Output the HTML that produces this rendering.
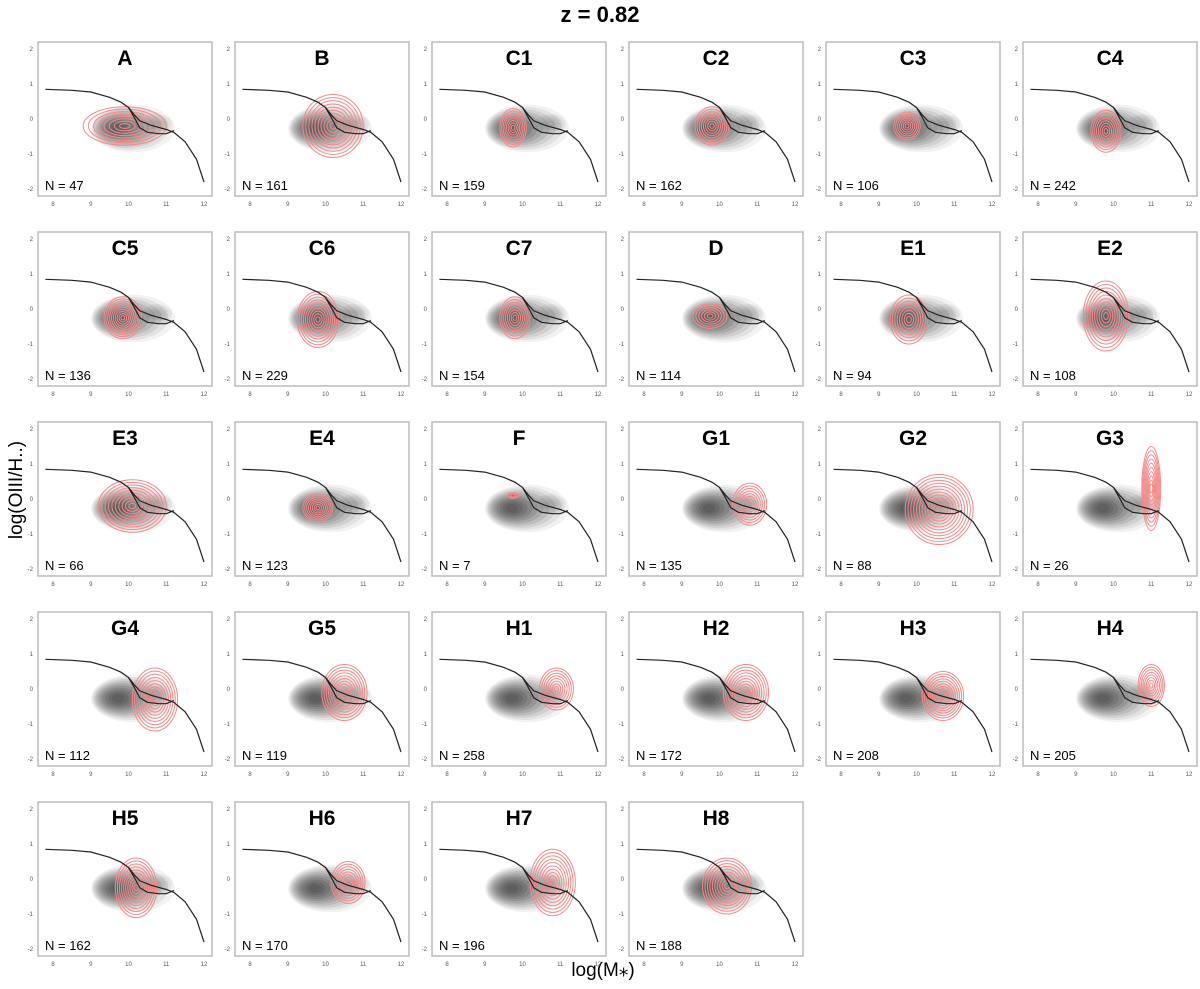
<!DOCTYPE html>
<html><head><meta charset="utf-8"><style>
body{margin:0;background:#fff;}
svg{display:block;font-family:"Liberation Sans",sans-serif;}
</style></head><body>
<svg id="fig" width="1200" height="989" xmlns="http://www.w3.org/2000/svg">
<text x="600" y="22" text-anchor="middle" font-size="22" font-weight="bold">z = 0.82</text>
<text x="0" y="0" transform="translate(22,490) rotate(-90)" text-anchor="middle" font-size="19">log(OIII/H..)</text>
<text x="603" y="976" text-anchor="middle" font-size="19">log(M⁎)</text>
<g id="panels"></g>
</svg>
<script>
const labels=["A","B","C1","C2","C3","C4","C5","C6","C7","D","E1","E2","E3","E4","F","G1","G2","G3","G4","G5","H1","H2","H3","H4","H5","H6","H7","H8"];
const counts=[47,161,159,162,106,242,136,229,154,114,94,108,66,123,7,135,88,26,112,119,258,172,208,205,162,170,196,188];
const redCx=[9.9,10.2,9.75,9.8,9.75,9.8,9.85,9.8,9.8,9.75,9.8,9.8,10.1,9.8,9.75,10.8,10.6,11.0,10.7,10.5,10.9,10.7,10.7,11.0,10.2,10.6,10.8,10.2];
const redCy=[-0.2,-0.2,-0.25,-0.2,-0.2,-0.35,-0.25,-0.3,-0.25,-0.2,-0.3,-0.2,-0.2,-0.25,0.1,-0.15,-0.3,0.3,-0.3,-0.1,0.0,-0.1,-0.2,0.1,-0.25,-0.1,-0.1,-0.2];
const redSx=[1.1,0.8,0.35,0.45,0.35,0.4,0.5,0.55,0.4,0.45,0.5,0.6,0.9,0.4,0.15,0.45,0.9,0.25,0.6,0.6,0.45,0.6,0.55,0.35,0.55,0.45,0.6,0.65];
const redSy=[0.55,0.9,0.55,0.55,0.4,0.6,0.6,0.8,0.6,0.35,0.7,1.0,0.75,0.4,0.08,0.6,1.0,1.2,0.9,0.8,0.6,0.8,0.7,0.6,0.85,0.6,0.95,0.8];
const redLevels=[8,10,8,8,7,8,10,10,8,6,8,10,10,8,3,8,12,10,10,10,8,10,10,8,10,8,10,10];
const xTicks=[8,9,10,11,12];
const yTicks=[2,1,0,-1,-2];
const upperCurveX=[7.8,8.5,9,9.5,9.8,10,10.15,10.3,10.6,11,11.2,11.5,11.8,12];
const upperCurveY=[0.85,0.82,0.77,0.62,0.48,0.33,0.12,-0.05,-0.18,-0.3,-0.38,-0.65,-1.15,-1.8];
const lowerCurveX=[10,10.15,10.3,10.5,10.8,11,11.2];
const lowerCurveY=[0.33,0.05,-0.25,-0.38,-0.42,-0.42,-0.33];
const NS="http://www.w3.org/2000/svg";
const W=174,H=154,colX=[38,235,432,629,826,1023],rowY=[42,232,422,612,802];
function mk(t,a,p){const e=document.createElementNS(NS,t);for(const k in a)e.setAttribute(k,a[k]);p.appendChild(e);return e;}
const root=document.getElementById('panels');
labels.forEach((lab,i)=>{
  const L=colX[i%6],T=rowY[Math.floor(i/6)];
  const sx=v=>L+15+(v-8)*37.75, sy=v=>T+77-v*35;
  const g=mk('g',{},root);
  
  
  const cp='clip'+i;
  const cl=mk('clipPath',{id:cp},g);mk('rect',{x:L,y:T,width:W,height:H},cl);
  const inner=mk('g',{'clip-path':'url(#'+cp+')'},g);
  const gray=mk('g',{},inner);
  
  
  for(let k=0;k<10;k++){
    const f=1-k/10;
    const cx=9.72+0.4*f*f, cy=-0.27;
    mk('ellipse',{cx:sx(cx),cy:sy(cy),rx:(1.05*f+0.06)*37.75,ry:(0.62*f+0.06)*35,fill:'#444','fill-opacity':0.07+0.022*k},gray);
  }
  for(let k=0;k<4;k++){
    const f=1-k/4;
    mk('ellipse',{cx:sx(10.75),cy:sy(-0.15),rx:(0.35*f+0.05)*37.75,ry:(0.25*f+0.04)*35,fill:'#555','fill-opacity':0.1},gray);
  }
  const red=mk('g',{},inner);
  
  
  const n=redLevels[i];
  for(let k=0;k<n;k++){
    const f=1-k/n;
    mk('ellipse',{cx:sx(redCx[i]),cy:sy(redCy[i]),rx:Math.max(redSx[i]*f*37.75,1.5),ry:Math.max(redSy[i]*f*35,1.5),fill:lab==='F'?'#f33':'none','fill-opacity':lab==='F'?0.3:0,stroke:'#f58a8a','stroke-width':1}, red);
  }
  let d='';upperCurveX.forEach((x,j)=>{d+=(j?'L':'M')+sx(x).toFixed(1)+','+sy(upperCurveY[j]).toFixed(1);});
  const c1=mk('path',{d:d,fill:'none',stroke:'#222','stroke-width':1.2},inner);
  
  
  d='';lowerCurveX.forEach((x,j)=>{d+=(j?'L':'M')+sx(x).toFixed(1)+','+sy(lowerCurveY[j]).toFixed(1);});
  const c2=mk('path',{d:d,fill:'none',stroke:'#222','stroke-width':1.2},inner);
  
  
  const box=mk('rect',{x:L,y:T,width:W,height:H,fill:'none',stroke:'#bbb','stroke-width':1.5},g);
  
  
  const tt=mk('text',{x:L+W/2,y:T+23,'text-anchor':'middle','font-size':21,'font-weight':'bold'},g);
  tt.textContent=lab;
  
  
  const nt=mk('text',{x:L+7,y:T+H-6,'font-size':13},g);
  nt.textContent='N = '+counts[i];
  
  
  xTicks.forEach(v=>{const t=mk('text',{x:sx(v),y:T+H+10,'text-anchor':'middle','font-size':6,fill:'#555'},g);t.textContent=v;
    
    });
  yTicks.forEach(v=>{const t=mk('text',{x:L-5,y:sy(v)+2,'text-anchor':'end','font-size':6,fill:'#555'},g);t.textContent=v;
    
    });
});
</script>
</body></html>
